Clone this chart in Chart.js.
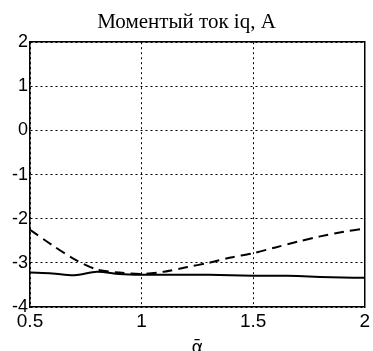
<!DOCTYPE html>
<html>
<head>
<meta charset="utf-8">
<script src="https://cdn.jsdelivr.net/npm/chart.js@4/dist/chart.umd.min.js"></script>
<style>
  html, body { margin: 0; padding: 0; background: #fff; }
  #wrap { width: 373px; height: 351px; }
</style>
</head>
<body>
<div id="wrap"><canvas id="line"></canvas></div>
<script>
// alpha values (x axis)
var alpha = [0.5, 0.6, 0.7, 0.8, 0.9, 1.0, 1.1, 1.2, 1.3, 1.4, 1.5, 1.6, 1.7, 1.8, 1.9, 2.0];
// dashed curve
var iqDashed = [-2.25, -2.6, -2.92, -3.15, -3.22, -3.25, -3.2, -3.1, -3.0, -2.88, -2.78, -2.65, -2.52, -2.4, -2.3, -2.22];
// solid curve
var iqSolid = [-3.22, -3.24, -3.28, -3.2, -3.25, -3.27, -3.27, -3.27, -3.27, -3.28, -3.29, -3.29, -3.3, -3.32, -3.33, -3.34];
var xTicks = [0.5, 1, 1.5, 2];
var yTicks = [-4, -3, -2, -1, 0, 1, 2];

function pts(ys) {
    return alpha.map(function (a, i) { return { x: a, y: ys[i] }; });
}

document.addEventListener('DOMContentLoaded', function () {
    var ctx = document.getElementById('line').getContext('2d');
    var myChart = new Chart(ctx, {
        type: 'line',
        data: {
            datasets: [{
                label: 'solid',
                data: pts(iqSolid),
                borderColor: '#000',
                borderWidth: 2,
                pointRadius: 0,
                tension: 0.3
            }, {
                label: 'dashed',
                data: pts(iqDashed),
                borderColor: '#000',
                borderWidth: 2,
                borderDash: [10, 6],
                pointRadius: 0,
                tension: 0.3
            }]
        },
        options: {
            responsive: true,
            maintainAspectRatio: false,
            animation: false,
            layout: { padding: 0 },
            plugins: {
                legend: { display: false },
                tooltip: { enabled: false },
                title: {
                    display: true,
                    text: 'Моментый ток iq, A',
                    color: '#000',
                    font: { family: 'Liberation Serif', size: 21, weight: 'normal' },
                    padding: { top: 10, bottom: 7 }
                }
            },
            scales: {
                x: {
                    type: 'linear',
                    min: 0.5, max: 2,
                    afterBuildTicks: function (s) { s.ticks = xTicks.map(function (v) { return { value: v }; }); },
                    afterFit: function (s) { s.height = 44; },
                    grid: { color: '#000', drawTicks: false, lineWidth: 1 },
                    border: { display: true, color: '#000', width: 1.5, dash: [2, 3] },
                    ticks: {
                        color: '#000',
                        padding: 3,
                        maxRotation: 0,
                        font: { family: 'Liberation Sans', size: 19 },
                        callback: function (v) { return String(v); }
                    },
                    title: {
                        display: true,
                        text: 'ᾱ',
                        color: '#000',
                        padding: { top: 0, bottom: -8 },
                        font: { family: 'DejaVu Sans', size: 18 }
                    }
                },
                y: {
                    min: -4, max: 2,
                    afterBuildTicks: function (s) { s.ticks = yTicks.map(function (v) { return { value: v }; }); },
                    afterFit: function (s) { s.width = 30; },
                    grid: { color: '#000', drawTicks: false, lineWidth: 1 },
                    border: { display: true, color: '#000', width: 1.5, dash: [2, 3] },
                    ticks: {
                        color: '#000',
                        padding: 2,
                        font: { family: 'Liberation Sans', size: 18 }
                    }
                },
                x2: {
                    type: 'linear', position: 'top', min: 0.5, max: 2,
                    afterFit: function (s) { s.height = 0; },
                    grid: { display: false },
                    border: { display: true, color: '#000', width: 1.5 },
                    ticks: { display: false }
                },
                y2: {
                    type: 'linear', position: 'right', min: -4, max: 2,
                    afterFit: function (s) { s.width = 0; },
                    grid: { display: false },
                    border: { display: true, color: '#000', width: 1.5 },
                    ticks: { display: false }
                }
            }
        }
    });
});
</script>
</body>
</html>
